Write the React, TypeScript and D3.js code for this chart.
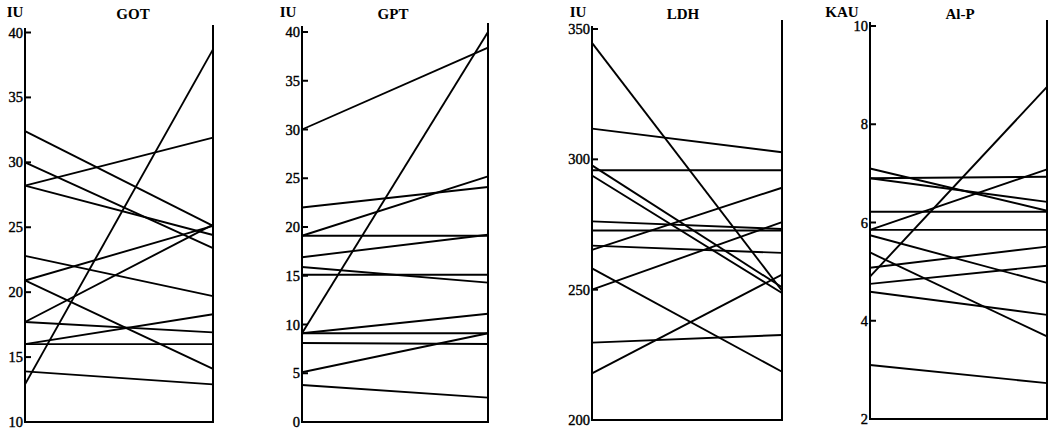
import React from "react";
import * as d3 from "d3";

// GOT (IU)
const gotBefore = [32.4, 30.0, 28.2, 28.2, 22.8, 20.9, 20.9, 17.7, 17.7, 16.0, 16.0, 13.9, 12.9];
const gotAfter = [25.1, 23.4, 24.4, 31.9, 19.7, 25.1, 14.1, 25.2, 16.9, 18.3, 16.0, 12.9, 38.7];
const gotTicks = [10, 15, 20, 25, 30, 35, 40];

// GPT (IU)
const gptBefore = [30.0, 22.0, 19.1, 19.1, 16.9, 15.9, 15.1, 9.1, 9.1, 9.1, 8.1, 5.1, 3.8];
const gptAfter = [38.4, 24.1, 25.2, 19.1, 19.2, 14.3, 15.1, 40.0, 11.1, 9.1, 8.0, 9.1, 2.5];
const gptTicks = [0, 5, 10, 15, 20, 25, 30, 35, 40];

// LDH (IU)
const ldhBefore = [344.7, 311.8, 295.8, 297.7, 293.8, 276.2, 272.7, 266.9, 265.3, 258.2, 250.0, 229.7, 217.9];
const ldhAfter = [249.6, 302.7, 295.8, 250.9, 248.7, 273.3, 272.7, 264.1, 289.1, 218.5, 275.9, 232.6, 255.8];
const ldhTicks = [200, 250, 300, 350];

// Al-P (KAU)
const alpBefore = [7.1, 6.9, 6.9, 6.22, 5.85, 5.85, 5.74, 5.39, 5.08, 4.75, 4.59, 4.9, 3.1];
const alpAfter = [6.24, 6.93, 6.42, 6.22, 7.08, 5.85, 4.77, 3.68, 5.51, 5.12, 4.12, 8.76, 2.73];
const alpTicks = [2, 4, 6, 8, 10];

const titles = ["GOT", "GPT", "LDH", "Al-P"];
const units = ["IU", "IU", "IU", "KAU"];

const panels = [
  { title: titles[0], unit: units[0], before: gotBefore, after: gotAfter, ticks: gotTicks,
    domain: [10, 40], x0: 25, x1: 213, yTop: 32.5, yBot: 422, axisTop: 28, rTop: 25, unitX: 15, titleX: 133 },
  { title: titles[1], unit: units[1], before: gptBefore, after: gptAfter, ticks: gptTicks,
    domain: [0, 40], x0: 302, x1: 488, yTop: 32, yBot: 422, axisTop: 26, rTop: 23, unitX: 288, titleX: 393 },
  { title: titles[2], unit: units[2], before: ldhBefore, after: ldhAfter, ticks: ldhTicks,
    domain: [200, 350], x0: 592, x1: 782, yTop: 29, yBot: 420, axisTop: 26, rTop: 20, unitX: 578, titleX: 683 },
  { title: titles[3], unit: units[3], before: alpBefore, after: alpAfter, ticks: alpTicks,
    domain: [2, 10], x0: 870, x1: 1047, yTop: 26, yBot: 419, axisTop: 22, rTop: 20, unitX: 842, titleX: 960 },
];

const FONT = "'Liberation Serif', 'DejaVu Serif', serif";

export default function App() {
  return (
    <svg width={1055} height={430} style={{ position: "absolute", left: 0, top: 0, background: "#fff" }}>
      <rect x={0} y={0} width={1055} height={430} fill="#fff" />
      {panels.map((p, pi) => {
        const y = d3.scaleLinear().domain(p.domain).range([p.yBot, p.yTop]);
        const x = d3.scaleLinear().domain([0, 1]).range([p.x0, p.x1]);
        const line = d3.line<[number, number]>().x((d) => x(d[0])).y((d) => y(d[1]));
        return (
          <g key={pi}>
            <text x={p.unitX} y={17} fontFamily={FONT} fontWeight="bold" fontSize={15} textAnchor="middle">{p.unit}</text>
            <text x={p.titleX} y={19} fontFamily={FONT} fontWeight="bold" fontSize={15} textAnchor="middle">{p.title}</text>
            <line x1={p.x0} x2={p.x0} y1={p.axisTop} y2={p.yBot} stroke="#000" strokeWidth={2} />
            <line x1={p.x1} x2={p.x1} y1={p.rTop} y2={p.yBot} stroke="#000" strokeWidth={2} />
            <line x1={p.x0 - 1} x2={p.x1 + 1} y1={p.yBot} y2={p.yBot} stroke="#000" strokeWidth={2} />
            {p.ticks.map((t) => (
              <g key={t}>
                <line x1={p.x0} x2={p.x0 + 6} y1={y(t)} y2={y(t)} stroke="#000" strokeWidth={2} />
                <text x={p.x0 - 2} y={y(t) + 5} fontFamily={FONT} fontSize={14.5} stroke="#000" strokeWidth={0.4} textAnchor="end">{t}</text>
              </g>
            ))}
            {p.before.map((b, i) => (
              <path key={i} d={line([[0, b], [1, p.after[i]]]) || ""} fill="none" stroke="#000" strokeWidth={1.9} />
            ))}
          </g>
        );
      })}
    </svg>
  );
}
